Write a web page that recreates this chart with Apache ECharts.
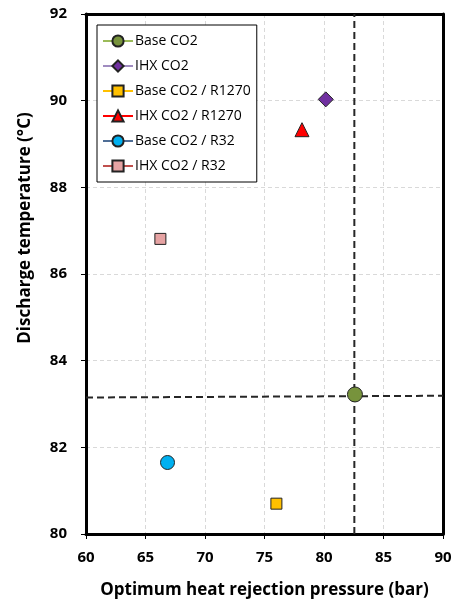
<!DOCTYPE html>
<html><head><meta charset="utf-8">
<script src="https://cdn.jsdelivr.net/npm/echarts@6/dist/echarts.min.js"></script>
<style>html,body{margin:0;padding:0;background:#fff}#c{width:456px;height:601px}</style>
</head><body><div id="c"></div>
<script>
const seriesNames = ['Base CO2','IHX CO2','Base CO2 / R1270','IHX CO2 / R1270','Base CO2 / R32','IHX CO2 / R32'];
const pressure = [82.6, 80.15, 76.0, 78.15, 66.85, 66.25];
const temperature = [83.22, 90.03, 80.7, 89.33, 81.65, 86.81];
const vLineX = [82.55, 82.55];
const vLineY = [80, 92];
const hLineX = [60, 90];
const hLineY = [83.15, 83.19];
const xTicks = [60, 65, 70, 75, 80, 85, 90];
const yTicks = [80, 82, 84, 86, 88, 90, 92];
const xTitle = 'Optimum heat rejection pressure (bar)';
const yTitle = 'Discharge temperature (°C)';

const symbols = ['circle','diamond','rect','triangle','circle','rect'];
const sizes = [15, 15, 11, 14, 14, 11];
const fills = ['#77933C','#7030A0','#FFC000','#FF0000','#00B0F0','#E6A3A3'];
const lineCols = ['#9BBB59','#A08CC0','#FFC000','#FF0000','#4F6E96','#C0504D'];
const font = 'Open Sans';

const series = seriesNames.map((n,i)=>({
  name:n, type:'line', symbol:symbols[i], symbolSize:sizes[i],
  data:[[pressure[i], temperature[i]]],
  itemStyle:{color:fills[i], borderColor:'#222', borderWidth:1},
  lineStyle:{color:lineCols[i], width:2}, z:5
}));
series.push({type:'line', data:vLineX.map((x,i)=>[x,vLineY[i]]), symbol:'none',
  lineStyle:{color:'#262626', width:2, type:[7,4]}, z:3, silent:true});
series.push({type:'line', data:hLineX.map((x,i)=>[x,hLineY[i]]), symbol:'none',
  lineStyle:{color:'#262626', width:2, type:[7,4]}, z:3, silent:true});

const tickLabel = {fontFamily:font, fontWeight:'bold', fontSize:15, color:'#000'};
const frameAxis = {show:true, onZero:false, lineStyle:{color:'#000', width:3}};

const chart = echarts.init(document.getElementById('c'), null, {renderer:'canvas'});
chart.setOption({
  animation:false,
  grid:{left:86, right:13, top:14, bottom:67, show:false, containLabel:false, outerBoundsMode:'none'},
  legend:{data:seriesNames, orient:'vertical', left:97, top:25,
    padding:[9,6,9,5], itemGap:11, itemWidth:30, itemHeight:14,
    backgroundColor:'#fff', borderColor:'#000', borderWidth:1,
    textStyle:{fontFamily:font, fontSize:14, color:'#000', padding:[0,0,0,-3]}},
  xAxis:[{type:'value', min:60, max:90, interval:5,
    name:xTitle, nameLocation:'middle', nameGap:48,
    nameTextStyle:{fontFamily:font, fontWeight:'bold', fontSize:17, color:'#000'},
    axisLine:frameAxis,
    axisTick:{show:true, inside:false, length:5, lineStyle:{color:'#000', width:1}},
    axisLabel:Object.assign({margin:16, formatter:v=>xTicks.includes(v)?String(v):''}, tickLabel),
    splitLine:{show:true, lineStyle:{color:'#d9d9d9', type:[4,3], width:1}}},
   {type:'value', min:60, max:90, interval:5, position:'top', axisLine:frameAxis,
    axisTick:{show:false}, axisLabel:{show:false}, splitLine:{show:false}}],
  yAxis:[{type:'value', min:80, max:92, interval:2,
    axisLine:frameAxis,
    axisTick:{show:true, inside:false, length:5, lineStyle:{color:'#000', width:1}},
    axisLabel:Object.assign({margin:19, formatter:v=>yTicks.includes(v)?String(v):''}, tickLabel),
    splitLine:{show:true, lineStyle:{color:'#d9d9d9', type:[4,3], width:1}}},
   {type:'value', min:80, max:92, interval:2, position:'right', axisLine:frameAxis,
    axisTick:{show:false}, axisLabel:{show:false}, splitLine:{show:false}}],
  graphic:[{type:'text', x:25, y:228, rotation:Math.PI/2,
    style:{text:yTitle, fontFamily:font, fontWeight:'bold', fontSize:17, fill:'#000',
      align:'center', verticalAlign:'middle'}}],
  series:series
});
</script></body></html>
